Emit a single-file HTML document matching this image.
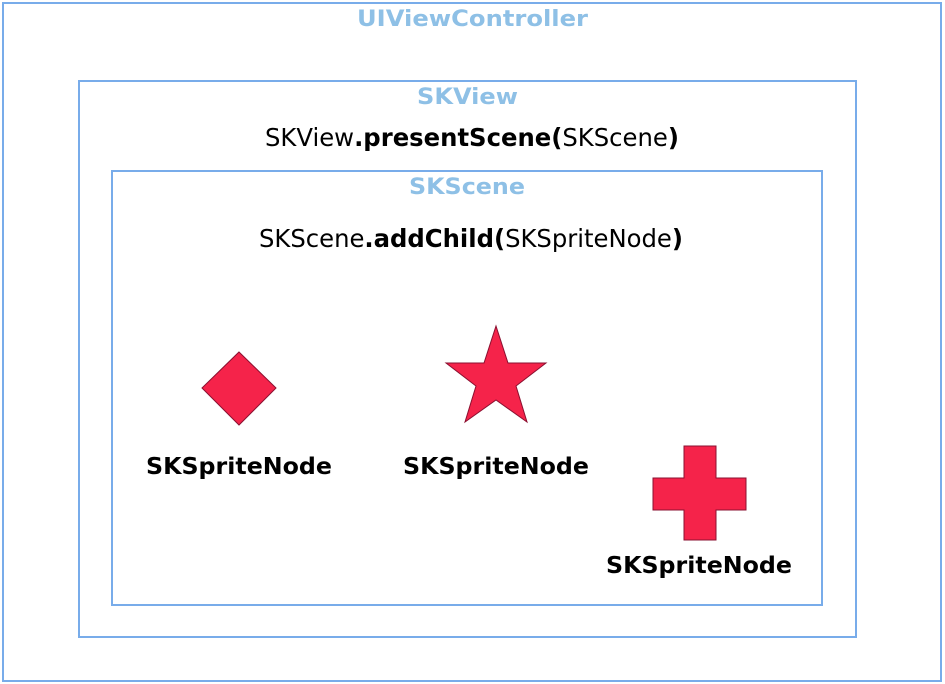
<!DOCTYPE html>
<html><head><meta charset="utf-8"><style>
html,body{margin:0;padding:0;background:#fff;}
svg{display:block;}
text{font-family:"DejaVu Sans","Liberation Sans",sans-serif;}
</style></head><body>
<svg width="945" height="684" viewBox="0 0 945 684" xmlns="http://www.w3.org/2000/svg">
<rect width="945" height="684" fill="#fff"/>
<g fill="none" stroke="#78acea" stroke-width="2">
<rect x="3" y="3" width="938" height="678"/>
<rect x="79" y="81" width="777" height="556"/>
<rect x="112" y="171" width="710" height="434"/>
</g>
<g fill="#8ec0e6" font-weight="bold" font-size="22">
<text x="357" y="26" textLength="231" lengthAdjust="spacingAndGlyphs">UIViewController</text>
<text x="417" y="104" textLength="101" lengthAdjust="spacingAndGlyphs">SKView</text>
<text x="409" y="194" textLength="116" lengthAdjust="spacingAndGlyphs">SKScene</text>
</g>
<g fill="#000" font-size="25">
<text x="265" y="146" textLength="414" lengthAdjust="spacingAndGlyphs">SKView<tspan font-weight="bold">.presentScene(</tspan>SKScene<tspan font-weight="bold">)</tspan></text>
<text x="259" y="247" textLength="424" lengthAdjust="spacingAndGlyphs">SKScene<tspan font-weight="bold">.addChild(</tspan>SKSpriteNode<tspan font-weight="bold">)</tspan></text>
</g>
<g fill="#000" font-weight="bold" font-size="23">
<text x="146" y="474" textLength="186" lengthAdjust="spacingAndGlyphs">SKSpriteNode</text>
<text x="403" y="474" textLength="186" lengthAdjust="spacingAndGlyphs">SKSpriteNode</text>
<text x="606" y="573" textLength="186" lengthAdjust="spacingAndGlyphs">SKSpriteNode</text>
</g>
<g fill="#f5234a" stroke="#8a1030" stroke-width="1">
<polygon points="239,352 276,388 239,425 202,388"/>
<polygon points="496,326 508,363 546,363 516,386 527,422 496,400 465,422 476,386 446,363 484,363"/>
<polygon points="684,446 716,446 716,478 746,478 746,510 716,510 716,540 684,540 684,510 653,510 653,478 684,478"/>
</g>
</svg>
</body></html>
